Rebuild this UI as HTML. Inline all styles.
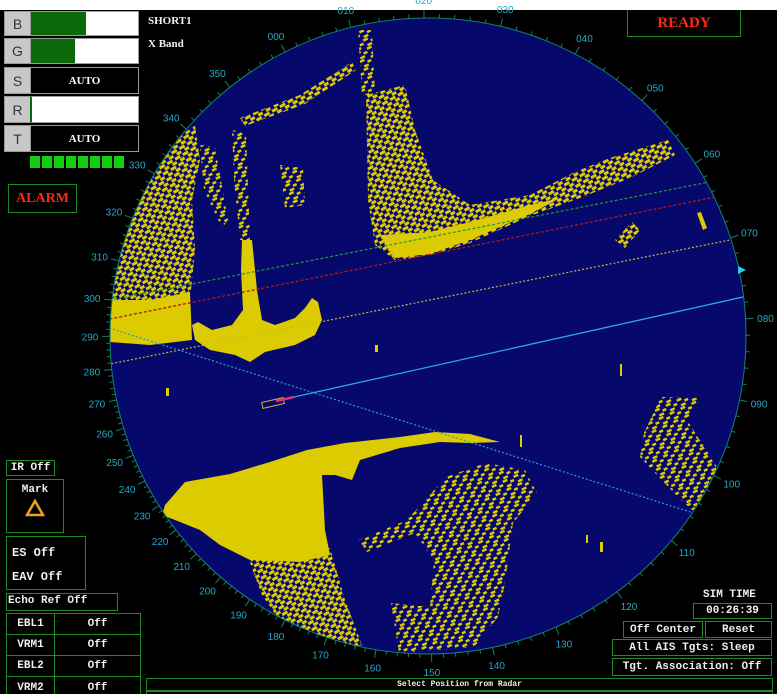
<!DOCTYPE html>
<html><head><meta charset="utf-8">
<style>
html,body{margin:0;padding:0;background:#000;width:777px;height:694px;overflow:hidden;font-family:"Liberation Mono",monospace;}
#root{position:relative;width:777px;height:694px;background:#000;}
.abs{position:absolute;box-sizing:border-box;}
.gb{border:1.5px solid #1e8a24;color:#f0f0f0;font-weight:bold;font-size:11px;}
.ctr{display:flex;align-items:center;justify-content:center;}
.lbl{background:#c8c8c8;color:#333;font-family:"Liberation Sans",sans-serif;font-size:14px;border:1px solid #999;}
</style></head><body>
<div id="root">
<svg id="radar" class="abs" style="left:0;top:0" width="777" height="694">
 <defs>
  <clipPath id="cc"><circle cx="428" cy="336" r="318"/></clipPath>
  <pattern id="spk" width="12" height="9" patternUnits="userSpaceOnUse" patternTransform="rotate(-25)">
   <rect x="0" y="0" width="5" height="2.5" fill="#dccb00"/><rect x="7" y="3" width="4" height="2.5" fill="#dccb00"/><rect x="2" y="6" width="5" height="2.5" fill="#dccb00"/>
  </pattern>
  <pattern id="spk2" width="9" height="7" patternUnits="userSpaceOnUse" patternTransform="rotate(-30)">
   <rect x="0" y="0" width="6" height="3" fill="#dccb00"/><rect x="4" y="3.5" width="5" height="3" fill="#dccb00"/>
  </pattern>
 </defs>
 <rect x="0" y="0" width="777" height="10" fill="#fff"/>
 <circle cx="428" cy="336" r="318" fill="#07086c"/>
 <g clip-path="url(#cc)">
  <polygon fill="url(#spk2)" points="108,345 110,290 118,250 130,210 150,172 175,140 195,125 200,160 192,200 195,250 190,300 150,315 112,320"/>
  <polygon fill="#dccb00" points="108,300 150,300 190,292 192,340 150,345 110,342"/>
  <polygon fill="url(#spk)" points="200,145 215,147 228,220 222,228 204,190"/>
  <polygon fill="url(#spk)" points="232,130 246,133 250,240 240,240 234,180"/>
  <polygon fill="url(#spk2)" points="240,118 300,95 352,62 356,70 305,104 245,126"/>
  <polygon fill="url(#spk)" points="358,30 372,30 375,95 362,95"/>
  <polygon fill="url(#spk)" points="280,165 303,168 305,205 285,208"/>
  <polygon fill="#dccb00" points="242,240 252,240 257,290 262,320 275,325 295,318 305,308 312,298 318,302 322,320 315,335 295,345 265,352 250,362 235,355 210,350 195,340 192,325 198,322 212,330 232,325 243,310 241,270"/>
  <polygon fill="url(#spk2)" points="366,95 405,85 415,130 433,180 470,205 530,195 575,172 610,158 668,140 675,155 630,178 580,198 530,216 470,243 430,255 395,260 375,245 368,200"/>
  <polygon fill="#dccb00" points="380,235 430,232 470,222 530,205 560,198 530,214 470,240 430,254 395,258"/>
  <polygon fill="url(#spk2)" points="615,240 632,222 640,230 625,248"/>
  <polygon fill="#dccb00" points="697,213 701,212 707,228 703,230"/>
  <polygon fill="#dccb00" points="165,505 185,482 230,474 270,462 307,450 345,443 400,437 435,432 470,434 500,442 470,443 440,442 400,448 360,460 352,480 335,475 322,475 325,530 330,555 300,562 250,560 220,545 200,530 175,520 162,515"/>
  <polygon fill="url(#spk2)" points="246,552 330,548 345,600 362,645 330,655 285,628 262,595"/>
  <polygon fill="url(#spk)" points="359,540 407,520 446,477 486,463 525,470 537,493 513,523 505,583 498,617 474,647 399,653 391,603 430,607 434,560 415,533 367,552"/>
  <polygon fill="url(#spk)" points="661,397 700,398 687,420 717,467 704,507 692,510 674,493 640,457 644,433"/>
  <rect x="166" y="388" width="3" height="8" fill="#dccb00"/>
  <rect x="375" y="345" width="3" height="7" fill="#dccb00"/>
  <rect x="620" y="364" width="2" height="12" fill="#dccb00"/>
  <rect x="520" y="435" width="2" height="12" fill="#dccb00"/>
  <rect x="600" y="542" width="3" height="10" fill="#dccb00"/>
  <rect x="586" y="535" width="2" height="8" fill="#dccb00"/>
  <line x1="80" y1="306" x2="760" y2="172" stroke="#1f9a2a" stroke-width="1.2" stroke-dasharray="3,2"/>
  <line x1="80" y1="325" x2="760" y2="188" stroke="#b01818" stroke-width="1.3" stroke-dasharray="3,2"/>
  <line x1="80" y1="370" x2="760" y2="234" stroke="#c8b838" stroke-width="1.2" stroke-dasharray="2,2"/>
  <line x1="294" y1="397" x2="770" y2="291" stroke="#2ea8d8" stroke-width="1.3"/>
  <line x1="90" y1="322" x2="760" y2="534" stroke="#2a9cc8" stroke-width="1.2" stroke-dasharray="2,2"/>
  <rect x="262" y="400" width="22" height="6" fill="none" stroke="#c8b838" stroke-width="1" transform="rotate(-13 273 403)"/>
  <line x1="276" y1="401" x2="294" y2="397" stroke="#e0307a" stroke-width="2.5"/>
 </g>
 <g id="ring"></g>
 <polygon points="738,266 746,270 738,274" fill="#30c8e8"/>
</svg>

<div class="abs lbl ctr" style="left:4px;top:11px;width:27px;height:25px">B</div>
<div class="abs" style="left:30px;top:11px;width:109px;height:25px;background:#fff;border:1px solid #999"><div style="width:55px;height:100%;background:#0a6a0a"></div></div>
<div class="abs lbl ctr" style="left:4px;top:38px;width:27px;height:26px">G</div>
<div class="abs" style="left:30px;top:38px;width:109px;height:26px;background:#fff;border:1px solid #999"><div style="width:44px;height:100%;background:#0a6a0a"></div></div>
<div class="abs lbl ctr" style="left:4px;top:67px;width:27px;height:27px">S</div>
<div class="abs ctr" style="left:30px;top:67px;width:109px;height:27px;background:#000;border:1.5px solid #999;color:#fff;font-family:'Liberation Serif',serif;font-size:11px;font-weight:bold">AUTO</div>
<div class="abs lbl ctr" style="left:4px;top:96px;width:27px;height:27px">R</div>
<div class="abs" style="left:30px;top:96px;width:109px;height:27px;background:#fff;border:1px solid #999;border-left:2px solid #0a6a0a"></div>
<div class="abs lbl ctr" style="left:4px;top:125px;width:27px;height:27px">T</div>
<div class="abs ctr" style="left:30px;top:125px;width:109px;height:27px;background:#000;border:1.5px solid #999;color:#fff;font-family:'Liberation Serif',serif;font-size:11px;font-weight:bold">AUTO</div>
<div class="abs" style="left:30px;top:156px;width:94px;height:12px;display:flex;gap:2px">
 <div style="flex:1;background:#10d010"></div><div style="flex:1;background:#10d010"></div><div style="flex:1;background:#10d010"></div><div style="flex:1;background:#10d010"></div><div style="flex:1;background:#10d010"></div><div style="flex:1;background:#10d010"></div><div style="flex:1;background:#10d010"></div><div style="flex:1;background:#10d010"></div>
</div>
<div class="abs ctr" style="left:8px;top:184px;width:69px;height:29px;border:1.5px solid #1e8a24;color:#ff2a10;font-family:'Liberation Serif',serif;font-weight:bold;font-size:14px">ALARM</div>
<div class="abs" style="left:148px;top:15px;color:#f0f0f0;font-family:'Liberation Serif',serif;font-weight:bold;font-size:11px">SHORT1</div>
<div class="abs" style="left:148px;top:38px;color:#f0f0f0;font-family:'Liberation Serif',serif;font-weight:bold;font-size:11px">X Band</div>
<div class="abs ctr" style="left:627px;top:10px;width:114px;height:27px;border:1.5px solid #1e8a24;border-top:none;color:#ff2a10;font-family:'Liberation Serif',serif;font-weight:bold;font-size:15px">READY</div>

<div class="abs gb ctr" style="left:6px;top:460px;width:49px;height:16px">IR Off</div>
<div class="abs gb" style="left:6px;top:479px;width:58px;height:54px;text-align:center;padding-top:4px">Mark<br><svg width="20" height="18" style="margin-top:3px"><polygon points="10,2 18,16 2,16" fill="none" stroke="#f0a020" stroke-width="2.5"/></svg></div>
<div class="abs gb" style="left:6px;top:536px;width:80px;height:54px;padding:4px 0 0 5px;line-height:24px;font-size:12px">ES Off<br>EAV Off</div>
<div class="abs gb" style="left:6px;top:593px;width:112px;height:18px;padding:1px 0 0 1px">Echo Ref Off</div>
<div class="abs" style="left:6px;top:613px;width:135px;height:84px;border:1.5px solid #1e8a24;box-sizing:border-box">
 <div style="display:grid;grid-template-columns:48px 1fr;grid-auto-rows:21px;color:#f0f0f0;font-weight:bold;font-size:11px">
  <div class="ctr" style="border-right:1.5px solid #1e8a24;border-bottom:1.5px solid #1e8a24">EBL1</div><div class="ctr" style="border-bottom:1.5px solid #1e8a24">Off</div>
  <div class="ctr" style="border-right:1.5px solid #1e8a24;border-bottom:1.5px solid #1e8a24">VRM1</div><div class="ctr" style="border-bottom:1.5px solid #1e8a24">Off</div>
  <div class="ctr" style="border-right:1.5px solid #1e8a24;border-bottom:1.5px solid #1e8a24">EBL2</div><div class="ctr" style="border-bottom:1.5px solid #1e8a24">Off</div>
  <div class="ctr" style="border-right:1.5px solid #1e8a24">VRM2</div><div class="ctr">Off</div>
 </div>
</div>

<div class="abs" style="left:703px;top:589px;color:#f0f0f0;font-weight:bold;font-size:11px">SIM TIME</div>
<div class="abs gb ctr" style="left:693px;top:603px;width:79px;height:16px">00:26:39</div>
<div class="abs gb ctr" style="left:623px;top:621px;width:80px;height:17px">Off Center</div>
<div class="abs gb ctr" style="left:705px;top:621px;width:67px;height:17px">Reset</div>
<div class="abs gb ctr" style="left:612px;top:639px;width:160px;height:17px">All AIS Tgts: Sleep</div>
<div class="abs gb ctr" style="left:612px;top:658px;width:160px;height:18px">Tgt. Association: Off</div>
<div class="abs gb ctr" style="left:146px;top:678px;width:627px;height:13px;font-size:8px">Select Position from Radar</div>
<div class="abs" style="left:146px;top:691px;width:627px;height:5px;border:1.5px solid #1e8a24;box-sizing:border-box"></div>
</div>
<script>
const ringCx = 428, ringCy = 336, ringR = 318;
const shipX = 285, shipY = 400;
const bearingLabels = ["000","010","020","030","040","050","060","070","080","090","100","110","120","130","140","150","160","170","180","190","200","210","220","230","240","250","260","270","280","290","300","310","320","330","340","350"];
const NS = "http://www.w3.org/2000/svg";
const ring = document.getElementById("ring");
function ringPoint(b){
  const a = b*Math.PI/180, dx = Math.sin(a), dy = -Math.cos(a);
  const fx = shipX-ringCx, fy = shipY-ringCy;
  const B = fx*dx+fy*dy, C = fx*fx+fy*fy-ringR*ringR;
  const t = -B+Math.sqrt(B*B-C);
  const px = shipX+dx*t, py = shipY+dy*t;
  const nx = (px-ringCx)/ringR, ny = (py-ringCy)/ringR;
  return {px,py,nx,ny};
}
const circ = document.createElementNS(NS,"circle");
circ.setAttribute("cx",ringCx);circ.setAttribute("cy",ringCy);circ.setAttribute("r",ringR);
circ.setAttribute("fill","none");circ.setAttribute("stroke","#12806e");circ.setAttribute("stroke-width","1");


ring.appendChild(circ);
for(let b=0;b<360;b+=2){
  const p = ringPoint(b);
  const len = (b%10===0)?8:4;
  const ln = document.createElementNS(NS,"line");
  ln.setAttribute("x1",p.px);ln.setAttribute("y1",p.py);
  ln.setAttribute("x2",p.px+p.nx*len);ln.setAttribute("y2",p.py+p.ny*len);
  ln.setAttribute("stroke","#12806e");ln.setAttribute("stroke-width","1");
  
  
  ring.appendChild(ln);
}
bearingLabels.forEach((lab,i)=>{
  const p = ringPoint(i*10);
  const tx = document.createElementNS(NS,"text");
  tx.setAttribute("x",p.px+p.nx*20);tx.setAttribute("y",p.py+p.ny*18+4);
  tx.setAttribute("text-anchor","middle");tx.setAttribute("fill","#22a8c8");
  tx.setAttribute("font-family","Liberation Sans, sans-serif");tx.setAttribute("font-size","10");
  tx.textContent = lab;
  
  
  ring.appendChild(tx);
});
</script>
</body></html>
